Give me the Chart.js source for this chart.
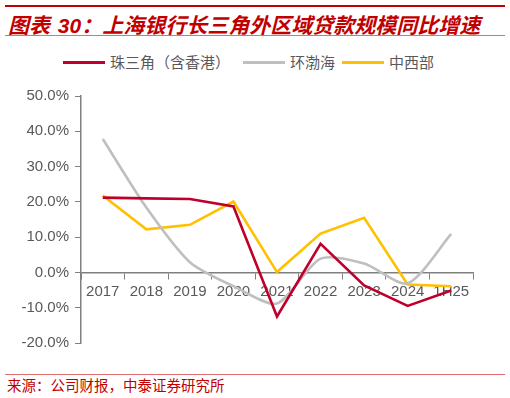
<!DOCTYPE html>
<html>
<head>
<meta charset="utf-8">
<script src="https://cdn.jsdelivr.net/npm/chart.js@4.4.1/dist/chart.umd.min.js"></script>
<style>
  body { margin: 0; width: 510px; height: 398px; background: #fff; position: relative; overflow: hidden; font-family: "Noto Sans CJK SC", sans-serif; }
  .topbar { position: absolute; left: 5px; top: 5px; width: 500px; height: 2px; background: #C00000; }
  .title { position: absolute; left: 8px; top: 9px; font-size: 21px; font-weight: bold; font-style: italic; color: #C00000; white-space: nowrap; }
  .title .num { font-family: "Liberation Sans", Arial, sans-serif; margin-left: 3px; }
  .subline { position: absolute; left: 5px; top: 35px; width: 500px; height: 1px; background: #E07070; }
  .legend { position: absolute; top: 52px; left: 0; height: 20px; font-size: 15px; color: #595959; }
  .legend span.line { position: absolute; top: 9px; height: 3px; width: 42px; }
  .legend span.txt { position: absolute; top: 0; white-space: nowrap; line-height: 20px; }
  .chart-wrap { position: absolute; left: 0; top: 80px; width: 510px; height: 290px; }
  .footline { position: absolute; left: 5px; top: 374px; width: 500px; height: 1px; background: #E07070; }
  .source { position: absolute; left: 7px; top: 376px; font-size: 14.5px; color: #C00000; white-space: nowrap; line-height: 18px; }
</style>
</head>
<body>
<div class="topbar"></div>
<div class="title">图表 <span class="num">30</span>：上海银行长三角外区域贷款规模同比增速</div>
<div class="subline"></div>
<div class="legend" id="legend"></div>
<div class="chart-wrap"><canvas id="growthChart" width="510" height="290"></canvas></div>
<div class="footline"></div>
<div class="source">来源：公司财报，中泰证券研究所</div>

<script>
// Chart data
const periods = ['2017', '2018', '2019', '2020', '2021', '2022', '2023', '2024', '1H25'];
const pearlRiver = [21.2, 21.0, 20.8, 18.7, -12.5, 8.1, -3.7, -9.5, -5.1];
const bohaiRim = [37.8, 18.4, 2.9, -3.9, -8.8, 3.9, 2.5, -3.1, 10.9];
const centralWest = [21.8, 12.2, 13.5, 20.1, 0.1, 11.0, 15.5, -3.4, -3.9];
const yTicks = [-20, -10, 0, 10, 20, 30, 40, 50];

const seriesNames = ['珠三角（含香港）', '环渤海', '中西部'];
const seriesColors = ['#C0002C', '#BFBFBF', '#FFC000'];

document.addEventListener('DOMContentLoaded', function () {
    buildLegend();
    renderChart();
});

function buildLegend() {
    const legend = document.getElementById('legend');
    const lineX = [63, 243, 342];
    const textX = [110, 290, 389];
    seriesNames.forEach((name, i) => {
        const line = document.createElement('span');
        line.className = 'line';
        line.style.left = lineX[i] + 'px';
        line.style.background = seriesColors[i];
        legend.appendChild(line);
        const txt = document.createElement('span');
        txt.className = 'txt';
        txt.style.left = textX[i] + 'px';
        txt.textContent = name;
        legend.appendChild(txt);
    });
}

function renderChart() {
    const ctx = document.getElementById('growthChart');
    const values = [pearlRiver, bohaiRim, centralWest];

    new Chart(ctx, {
        type: 'line',
        data: {
            labels: periods,
            datasets: values.map((data, i) => ({
                label: seriesNames[i],
                data: data,
                borderColor: seriesColors[i],
                backgroundColor: seriesColors[i],
                borderWidth: 2.6,
                pointRadius: 0,
                tension: i === 1 ? 0.25 : 0,
                fill: false
            }))
        },
        options: {
            responsive: false,
            animation: false,
            layout: { padding: { left: 0, right: 37, top: 16, bottom: 27 } },
            plugins: {
                legend: { display: false },
                tooltip: { enabled: false }
            },
            scales: {
                x: {
                    position: { y: 0 },
                    offset: true,
                    grid: {
                        display: true,
                        offset: true,
                        drawOnChartArea: false,
                        drawTicks: true,
                        tickLength: 6,
                        color: '#808080'
                    },
                    border: { display: true, color: '#808080', width: 1.5 },
                    ticks: {
                        color: '#595959',
                        padding: 4,
                        maxRotation: 0,
                        autoSkip: false,
                        font: { family: '"Liberation Sans", Arial, sans-serif', size: 15 }
                    }
                },
                y: {
                    min: -20,
                    max: 50,
                    afterBuildTicks: scale => {
                        scale.ticks = yTicks.map(v => ({ value: v }));
                    },
                    afterFit: scale => {
                        scale.width = 81;
                    },
                    grid: {
                        display: true,
                        drawOnChartArea: false,
                        drawTicks: true,
                        tickLength: 6,
                        color: '#808080'
                    },
                    border: { display: true, color: '#808080', width: 1.5 },
                    ticks: {
                        color: '#595959',
                        padding: 6,
                        font: { family: '"Liberation Sans", Arial, sans-serif', size: 15 },
                        callback: v => v.toFixed(1) + '%'
                    }
                }
            }
        }
    });
}
</script>
</body>
</html>
